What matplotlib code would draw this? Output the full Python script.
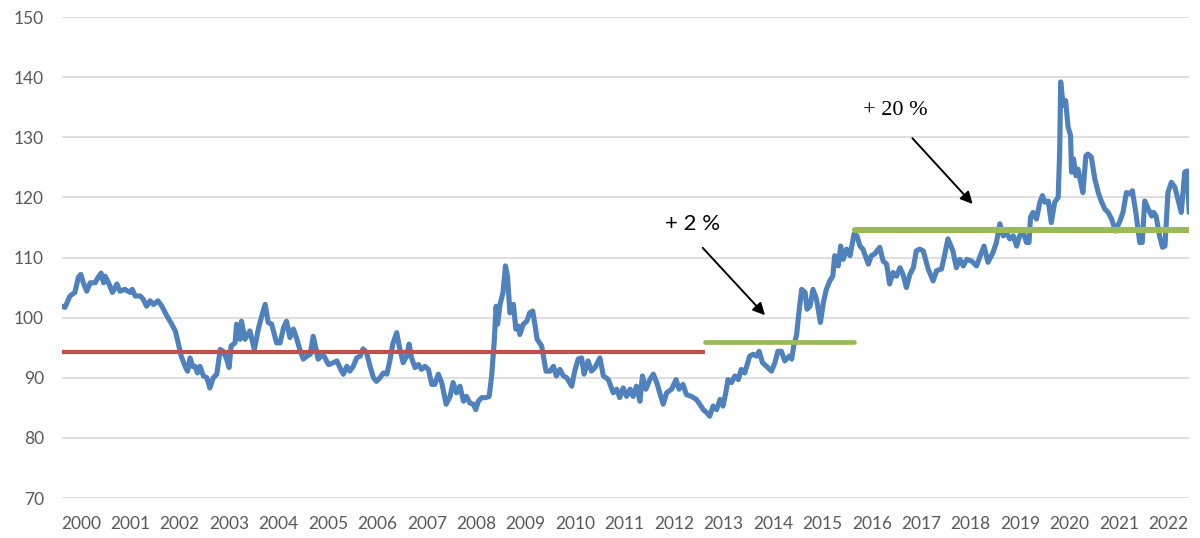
import matplotlib
matplotlib.use("Agg")
import matplotlib.pyplot as plt

# ---- data (decimal years, index values) ----
years = [
    2000.00, 2000.06, 2000.16, 2000.26, 2000.33, 2000.38, 2000.43, 2000.50, 2000.57, 2000.67,
    2000.73, 2000.79, 2000.84, 2000.87, 2000.94, 2001.02, 2001.11, 2001.17, 2001.27, 2001.38,
    2001.42, 2001.48, 2001.58, 2001.64, 2001.71, 2001.78, 2001.85, 2001.94, 2002.02, 2002.12,
    2002.22, 2002.29, 2002.35, 2002.41, 2002.49, 2002.54, 2002.59, 2002.64, 2002.69, 2002.74,
    2002.79, 2002.86, 2002.93, 2002.99, 2003.06, 2003.13, 2003.20, 2003.26, 2003.33, 2003.38,
    2003.42, 2003.50, 2003.53, 2003.60, 2003.63, 2003.70, 2003.80, 2003.89, 2003.97, 2004.05,
    2004.11, 2004.17, 2004.24, 2004.34, 2004.41, 2004.48, 2004.54, 2004.61, 2004.68, 2004.75,
    2004.81, 2004.88, 2004.95, 2005.02, 2005.08, 2005.14, 2005.18, 2005.28, 2005.39, 2005.49,
    2005.56, 2005.62, 2005.69, 2005.76, 2005.82, 2005.89, 2005.96, 2006.03, 2006.09, 2006.16,
    2006.23, 2006.30, 2006.36, 2006.43, 2006.50, 2006.57, 2006.63, 2006.69, 2006.77, 2006.82,
    2006.90, 2006.97, 2007.02, 2007.07, 2007.14, 2007.21, 2007.27, 2007.34, 2007.41, 2007.48,
    2007.54, 2007.61, 2007.68, 2007.77, 2007.85, 2007.91, 2007.98, 2008.05, 2008.12, 2008.18,
    2008.25, 2008.32, 2008.37, 2008.42, 2008.49, 2008.57, 2008.64, 2008.69, 2008.74, 2008.78,
    2008.81, 2008.86, 2008.92, 2008.97, 2009.01, 2009.06, 2009.13, 2009.18, 2009.23, 2009.26,
    2009.33, 2009.40, 2009.46, 2009.52, 2009.57, 2009.61, 2009.70, 2009.79, 2009.87, 2009.94,
    2010.00, 2010.07, 2010.14, 2010.21, 2010.31, 2010.37, 2010.44, 2010.51, 2010.56, 2010.64,
    2010.71, 2010.78, 2010.88, 2010.95, 2011.05, 2011.15, 2011.22, 2011.28, 2011.35, 2011.42,
    2011.49, 2011.55, 2011.62, 2011.69, 2011.74, 2011.81, 2011.89, 2011.96, 2012.03, 2012.09,
    2012.16, 2012.23, 2012.33, 2012.42, 2012.48, 2012.56, 2012.63, 2012.73, 2012.83, 2012.90,
    2012.97, 2013.04, 2013.10, 2013.17, 2013.24, 2013.31, 2013.37, 2013.44, 2013.47, 2013.54,
    2013.61, 2013.68, 2013.74, 2013.81, 2013.91, 2013.98, 2014.05, 2014.10, 2014.17, 2014.25,
    2014.35, 2014.42, 2014.48, 2014.55, 2014.62, 2014.71, 2014.76, 2014.80, 2014.86, 2014.89,
    2014.96, 2015.03, 2015.07, 2015.13, 2015.19, 2015.26, 2015.34, 2015.40, 2015.46, 2015.53,
    2015.59, 2015.63, 2015.70, 2015.75, 2015.80, 2015.87, 2015.94, 2016.02, 2016.08, 2016.14,
    2016.20, 2016.31, 2016.37, 2016.44, 2016.54, 2016.61, 2016.68, 2016.74, 2016.81, 2016.88,
    2016.95, 2017.01, 2017.08, 2017.15, 2017.22, 2017.28, 2017.35, 2017.42, 2017.52, 2017.62,
    2017.69, 2017.79, 2017.85, 2017.92, 2018.02, 2018.09, 2018.16, 2018.23, 2018.30, 2018.40,
    2018.50, 2018.56, 2018.65, 2018.73, 2018.83, 2018.90, 2018.97, 2019.04, 2019.10, 2019.17,
    2019.24, 2019.31, 2019.37, 2019.44, 2019.51, 2019.56, 2019.59, 2019.64, 2019.71, 2019.78,
    2019.83, 2019.88, 2019.95, 2020.01, 2020.08, 2020.15, 2020.18, 2020.20, 2020.25, 2020.30,
    2020.35, 2020.40, 2020.42, 2020.46, 2020.51, 2020.55, 2020.59, 2020.65, 2020.71, 2020.75,
    2020.82, 2020.89, 2020.96, 2021.03, 2021.09, 2021.16, 2021.23, 2021.31, 2021.40, 2021.46,
    2021.53, 2021.60, 2021.65, 2021.72, 2021.80, 2021.85, 2021.90, 2021.97, 2022.04, 2022.08,
    2022.13, 2022.20, 2022.26, 2022.31, 2022.37, 2022.44, 2022.51, 2022.58, 2022.64, 2022.71,
    2022.76, 2022.80,
]
values = [
    101.9, 101.7, 103.6, 104.2, 106.7, 107.2, 105.8, 104.4, 105.8, 105.8,
    106.7, 107.4, 105.8, 106.9, 105.8, 104.2, 105.6, 104.4, 104.7, 104.2,
    104.7, 103.6, 103.6, 103.1, 101.9, 102.8, 102.2, 102.8, 101.9, 100.3,
    98.9, 97.8, 95.8, 93.6, 91.9, 91.1, 93.3, 91.9, 91.9, 90.8,
    91.9, 90.3, 90.0, 88.3, 90.0, 90.6, 94.7, 94.4, 93.1, 91.7,
    95.3, 95.8, 98.9, 96.4, 99.4, 96.4, 97.8, 94.7, 98.1, 100.6,
    102.2, 99.2, 98.9, 95.8, 95.8, 98.3, 99.4, 96.7, 98.1, 96.4,
    94.7, 93.1, 93.6, 93.9, 96.9, 94.7, 93.1, 93.9, 92.2, 92.5,
    92.8, 91.7, 90.6, 91.9, 91.1, 91.9, 93.3, 93.6, 94.8, 94.2,
    91.9, 90.0, 89.4, 90.0, 90.8, 90.6, 92.8, 95.6, 97.5, 95.3,
    92.5, 93.6, 95.6, 93.3, 91.7, 92.2, 91.4, 91.9, 91.4, 88.9,
    88.9, 90.6, 89.2, 85.6, 86.9, 89.2, 87.5, 88.6, 86.1, 86.9,
    85.8, 85.6, 84.7, 86.1, 86.7, 86.7, 86.9, 90.3, 95.8, 101.9,
    98.9, 102.2, 104.2, 108.6, 106.9, 100.8, 102.2, 98.1, 98.6, 97.2,
    98.9, 99.4, 100.8, 101.1, 98.6, 96.4, 95.3, 91.1, 91.1, 91.9,
    90.3, 91.4, 90.3, 90.0, 88.6, 91.1, 93.1, 93.3, 90.6, 92.8,
    91.1, 91.7, 93.3, 90.3, 89.7, 87.5, 88.1, 86.7, 88.3, 86.9,
    88.1, 86.9, 88.6, 86.1, 90.3, 88.1, 89.7, 90.6, 89.2, 87.5,
    85.6, 87.5, 88.1, 89.7, 88.1, 88.9, 87.2, 86.9, 86.4, 85.6,
    84.7, 84.2, 83.6, 85.3, 84.7, 86.4, 85.3, 88.1, 89.7, 89.2,
    90.3, 89.7, 91.4, 90.8, 93.6, 93.9, 93.6, 94.4, 92.5, 91.9,
    91.1, 92.5, 94.4, 94.4, 92.8, 93.6, 93.1, 95.3, 97.2, 99.7,
    104.7, 104.2, 101.4, 101.9, 104.7, 103.1, 99.2, 102.5, 104.7, 106.1,
    106.9, 110.3, 108.6, 111.9, 109.7, 111.4, 110.3, 113.9, 113.6, 111.9,
    111.4, 108.9, 110.3, 110.6, 111.7, 109.4, 108.9, 105.6, 107.5, 106.9,
    108.3, 107.2, 105.0, 107.2, 108.3, 111.1, 111.4, 111.1, 108.1, 106.1,
    107.8, 108.1, 110.3, 113.1, 111.1, 108.3, 109.7, 108.6, 109.7, 109.4,
    108.6, 110.0, 111.9, 109.2, 110.8, 112.5, 115.6, 113.6, 114.2, 113.1,
    113.6, 111.9, 113.6, 114.2, 112.5, 112.5, 116.7, 117.5, 116.4, 119.2,
    120.3, 119.2, 119.4, 115.8, 119.2, 120.0, 127.5, 139.2, 135.3, 136.1,
    131.7, 130.3, 124.2, 126.4, 123.6, 124.7, 123.1, 120.8, 126.9, 127.2,
    126.7, 123.1, 120.8, 119.2, 118.1, 117.5, 116.4, 114.4, 116.1, 117.5,
    120.8, 120.6, 121.1, 117.5, 112.5, 112.5, 119.4, 118.1, 116.9, 117.5,
    116.9, 113.6, 111.7, 111.9, 120.8, 122.5, 121.7, 119.4, 117.5, 124.2,
    124.4, 117.5,
]

# average levels over periods
avg_levels = [94.35, 95.9, 114.6]
avg_starts = [2000.0, 2013.0, 2016.03]
avg_ends = [2013.0, 2016.02, 2022.80]
avg_colors = ["#C0504D", "#9BBB59", "#9BBB59"]
avg_widths = [3.0, 3.4, 4.4]

tick_years = list(range(2000, 2023))
tick_labels = [str(y) for y in tick_years]
y_ticks = [70, 80, 90, 100, 110, 120, 130, 140, 150]

# ---- figure ----
fig = plt.figure(figsize=(12, 5.38), dpi=100)
ax = fig.add_axes([0.0517, 0.0743, 0.9393, 0.8941])

ax.plot(years, values, color="#4F81BD", lw=3.7, solid_joinstyle="round",
        solid_capstyle="round", zorder=3)

for lev, s, e, c, w in zip(avg_levels, avg_starts, avg_ends, avg_colors, avg_widths):
    ax.plot([s, e], [lev, lev], color=c, lw=w,
            solid_capstyle="round" if c != "#C0504D" else "butt", zorder=4)

ax.set_xlim(2000.0, 2022.80)
ax.set_ylim(70, 150)
ax.set_yticks(y_ticks)
ax.set_xticks([y + 0.38 for y in tick_years])
ax.set_xticklabels(tick_labels)
ax.grid(axis="y", color="#D9D9D9", lw=1.2)
ax.set_axisbelow(True)
for sp in ax.spines.values():
    sp.set_visible(False)
ax.tick_params(axis="both", length=0, labelsize=12.5, labelcolor="#595959")
ax.tick_params(axis="y", pad=13)
ax.tick_params(axis="x", pad=13)
for lbl in ax.get_xticklabels() + ax.get_yticklabels():
    lbl.set_fontfamily("Lato")

# annotations
ax.annotate("", xy=(2014.22, 100.4), xytext=(2012.96, 111.6),
            arrowprops=dict(arrowstyle="-|>", color="black", lw=1.4, mutation_scale=18,
                            shrinkA=0, shrinkB=0), zorder=5)
ax.text(2012.76, 115.6, "+ 2 %", fontsize=16, family="Lato", ha="center", va="center", color="black")

ax.annotate("", xy=(2018.42, 118.9), xytext=(2017.20, 129.85),
            arrowprops=dict(arrowstyle="-|>", color="black", lw=1.4, mutation_scale=18,
                            shrinkA=0, shrinkB=0), zorder=5)
ax.text(2016.85, 134.4, "+ 20 %", fontsize=16, family="Liberation Serif", ha="center", va="center",
        color="black")

fig.savefig("out.png", dpi=100)
